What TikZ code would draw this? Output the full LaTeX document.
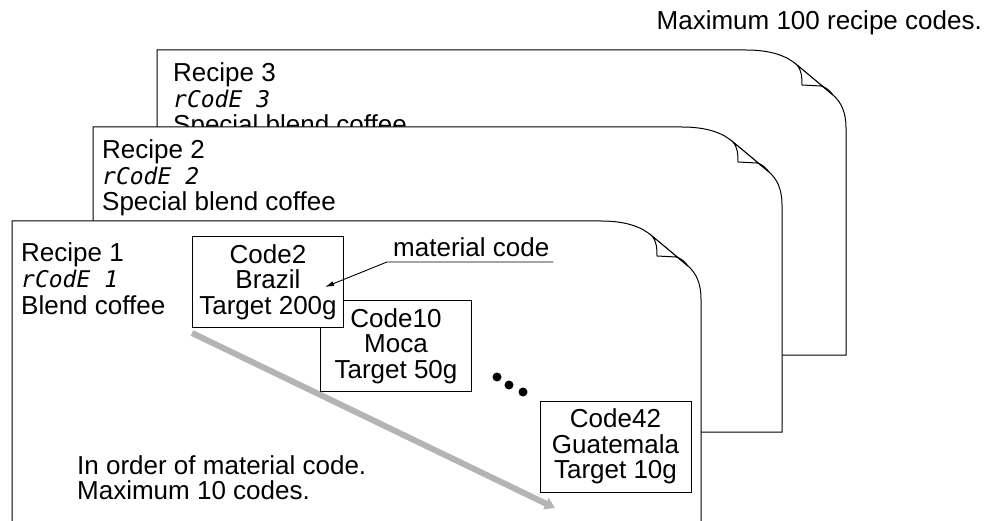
\documentclass[tikz,border=0pt]{standalone}
\usepackage{fontspec}
\setmainfont{Liberation Sans}
\newfontfamily\segfont{DejaVu Sans Mono}
\usetikzlibrary{arrows.meta}
\definecolor{ordergray}{RGB}{180,180,180}

\begin{document}
\begin{tikzpicture}[x=1pt,y=-1pt,
  sheet/.style={draw=black,fill=white,line width=1pt},
  lbl/.style={inner sep=0pt,font=\fontsize{26}{25.5}\selectfont},
  seg/.style={inner sep=0pt,font=\segfont\itshape\fontsize{23}{23}\selectfont},
  codebox/.style={draw,fill=white,line width=1pt,inner sep=0pt,minimum width=151pt,
    minimum height=91pt,align=center,font=\fontsize{26}{25.5}\selectfont},
  pointer/.style={line width=0.9pt,-{Latex[length=9pt,width=5pt]}}]
\useasboundingbox (0,0) rectangle (985,521);
\clip (0,0) rectangle (985,521);

% Recipe sheets, back to front
\foreach \n/\sx/\sy/\dx/\dy/\recname in {3/157/50/16/32/Special blend coffee, 2/93/127/9/32/Special blend coffee, 1/12/221/9/41/Blend coffee} {
    \filldraw[sheet] (\sx,\sy+305) -- (\sx,\sy) -- (\sx+589,\sy)
        .. controls (\sx+614,\sy) and (\sx+630,\sy+6) .. (\sx+640,\sy+15)
        -- (\sx+676,\sy+45)
        .. controls (\sx+684,\sy+52) and (\sx+689,\sy+62) .. (\sx+689,\sy+78)
        -- (\sx+689,\sy+305) -- cycle;
    % folded corner
    \filldraw[sheet] (\sx+640,\sy+15) .. controls (\sx+645,\sy+21) and (\sx+645,\sy+28) .. (\sx+645,\sy+35)
        -- (\sx+664,\sy+36) .. controls (\sx+669,\sy+37) and (\sx+673,\sy+41) .. (\sx+676,\sy+45) -- cycle;
    \node[lbl,anchor=base west] (recipe\n) at (\sx+\dx,\sy+\dy) {Recipe \n};
    \node[seg,anchor=base west] (rcode\n) at (\sx+\dx,\sy+\dy+26) {rCodE \n};
    \node[lbl,anchor=base west] (blend\n) at (\sx+\dx,\sy+\dy+52) {\recname};
}

% Order of materials
\coordinate (orderstart) at (192,333);
\coordinate (orderend) at (555,508);
\draw[line width=6pt,ordergray,-{Triangle[length=10pt,width=12pt]}] (orderstart) -- (orderend);

% Material entries
\node[codebox] (code10) at (396,346) {Code10\\Moca\\Target 50g};
\node[codebox] (code2) at (268,282) {Code2\\Brazil\\Target 200g};
\node[codebox] (code42) at (615.5,446.5) {Code42\\Guatemala\\Target 10g};

% Material code label
\node[lbl,anchor=base west] (matcode) at (393,257) {material code};
\coordinate (brazil) at (325,287);
\draw[pointer] ([xshift=4pt,yshift=-5pt]matcode.base east) -- ([xshift=-6pt,yshift=-5pt]matcode.base west) -- (brazil);

\foreach \x/\y in {497/377, 509/385, 523/392}
    \fill (\x,\y) circle[radius=4.5pt];

\node[lbl,anchor=base west] (order1) at (77,474) {In order of material code.};
\node[lbl,anchor=base west] (order2) at (77,499) {Maximum 10 codes.};
\node[lbl,anchor=base east] (maxrecipes) at (982,30) {Maximum 100 recipe codes.};
\end{tikzpicture}
\end{document}
